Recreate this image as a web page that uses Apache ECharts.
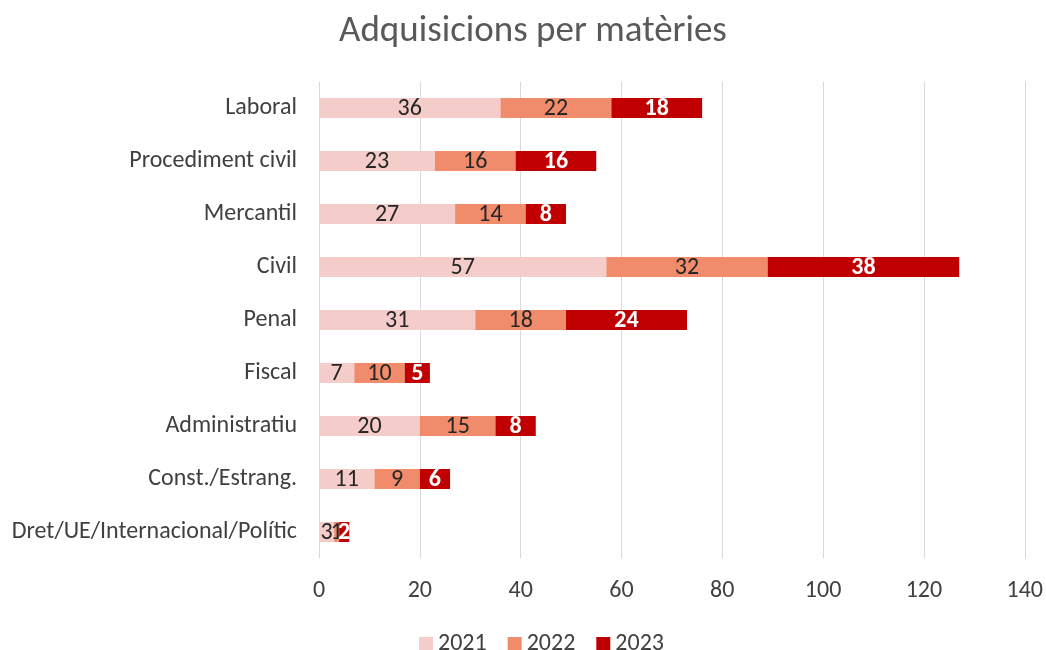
<!DOCTYPE html>
<html>
<head>
<meta charset="utf-8">
<script src="https://cdn.jsdelivr.net/npm/echarts@6/dist/echarts.min.js"></script>
<style>
  html, body { margin: 0; padding: 0; background: #fff; }
  #chart { width: 1046px; height: 650px; }
</style>
</head>
<body>
<div id="chart"></div>
<script>
// Acquisitions per subject area, stacked by year
const categories = [
  'Laboral', 'Procediment civil', 'Mercantil', 'Civil', 'Penal',
  'Fiscal', 'Administratiu', 'Const./Estrang.', 'Dret/UE/Internacional/Polític'
];
const years = ['2021', '2022', '2023'];
const values2021 = [36, 23, 27, 57, 31, 7, 20, 11, 3];
const values2022 = [22, 16, 14, 32, 18, 10, 15, 9, 1];
const values2023 = [18, 16, 8, 38, 24, 5, 8, 6, 2];
const xTicks = { min: 0, max: 140, interval: 20 };

const colors = ['#F4CCCA', '#F08C6B', '#C00000'];
const font = 'Calibri, Carlito, "Open Sans", sans-serif';

function makeSeries(name, data, color, labelColor, bold) {
  return {
    name: name,
    type: 'bar',
    stack: 'total',
    data: data,
    barWidth: 20,
    itemStyle: { color: color },
    label: {
      show: true,
      position: 'inside',
      offset: [0, 1],
      color: labelColor,
      fontFamily: font,
      fontSize: 24,
      fontWeight: bold ? 'bold' : 'normal'
    }
  };
}

const chart = echarts.init(document.getElementById('chart'), null, { renderer: 'canvas' });
chart.setOption({
  animation: false,
  backgroundColor: '#ffffff',
  title: {
    text: 'Adquisicions per matèries',
    left: 334,
    top: 8,
    textStyle: { color: '#595959', fontFamily: font, fontSize: 37, fontWeight: 'normal' }
  },
  legend: {
    data: years,
    top: 627,
    left: 414,
    itemWidth: 14,
    itemHeight: 14,
    itemGap: 21,
    icon: 'rect',
    textStyle: { color: '#404040', fontFamily: font, fontSize: 24 }
  },
  grid: { left: 319, right: 21, top: 81.5, bottom: 91.5, containLabel: false },
  xAxis: {
    type: 'value',
    min: xTicks.min,
    max: xTicks.max,
    interval: xTicks.interval,
    axisLine: { show: false },
    axisTick: { show: false },
    axisLabel: { color: '#404040', fontFamily: font, fontSize: 24, margin: 20 },
    splitLine: { show: true, lineStyle: { color: '#D9D9D9', width: 1 } }
  },
  yAxis: {
    type: 'category',
    data: categories,
    inverse: true,
    axisLine: { show: false },
    axisTick: { show: false },
    axisLabel: { color: '#404040', fontFamily: font, fontSize: 24, margin: 22 }
  },
  series: [
    makeSeries(years[0], values2021, colors[0], '#262626', false),
    makeSeries(years[1], values2022, colors[1], '#262626', false),
    makeSeries(years[2], values2023, colors[2], '#ffffff', true)
  ]
});
</script>
</body>
</html>
